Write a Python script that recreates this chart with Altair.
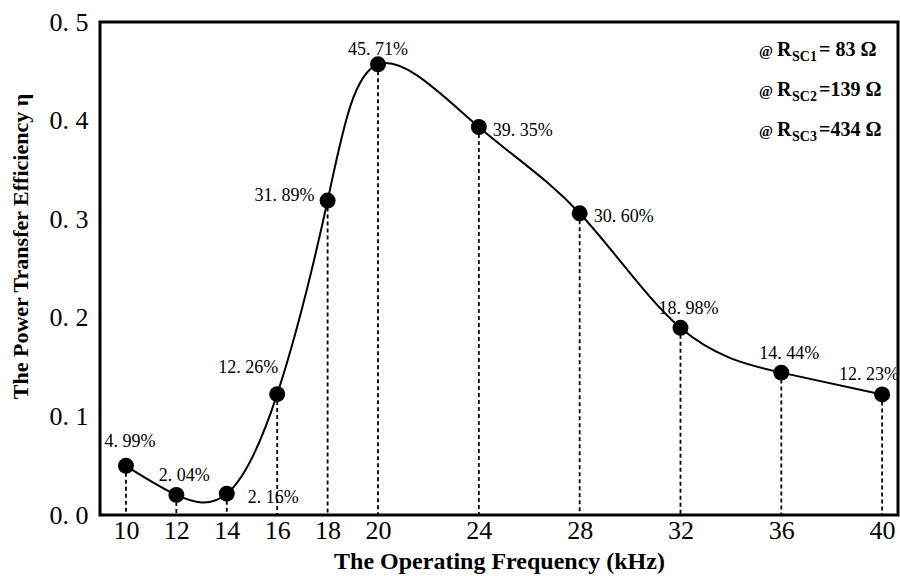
import altair as alt
import pandas as pd

freq = [10, 12, 14, 16, 18, 20, 24, 28, 32, 36, 40]
eff = [0.0499, 0.0204, 0.0216, 0.1226, 0.3189, 0.4571, 0.3935, 0.3060, 0.1898, 0.1444, 0.1223]
labels = ["4. 99%", "2. 04%", "2. 16%", "12. 26%", "31. 89%", "45. 71%",
          "39. 35%", "30. 60%", "18. 98%", "14. 44%", "12. 23%"]
placement = ["up", "up_right", "right_low", "up_left", "left", "top",
             "right", "right", "up_right", "up_right", "up_left_edge"]
y_ticks = [0.0, 0.1, 0.2, 0.3, 0.4, 0.5]
legend_sub = ["SC1", "SC2", "SC3"]
legend_val = ["= 83  Ω", "=139 Ω", "=434 Ω"]

df = pd.DataFrame({"f": freq, "e": eff, "lab": labels, "pl": placement, "zero": [0.0] * len(freq)})

SERIF = "Liberation Serif"

x = alt.X("f:Q", scale=alt.Scale(domain=[8.97, 40.63], nice=False, zero=False),
          axis=alt.Axis(values=freq, title="The Operating Frequency (kHz)",
                        ticks=False, domain=False, grid=False,
                        labelFont=SERIF, labelFontSize=26, labelColor="black",
                        labelPadding=2, labelFlush=False,
                        titleFont=SERIF, titleFontWeight="bold", titleFontSize=24,
                        titleColor="black", titleY=46, titleBaseline="middle"))
y = alt.Y("e:Q", scale=alt.Scale(domain=[0, 0.5], nice=False),
          axis=alt.Axis(values=y_ticks, title="The Power Transfer Efficiency η",
                        labelExpr="replace(format(datum.value, '.1f'), '.', '. ')",
                        ticks=False, domain=False, grid=False,
                        labelFont=SERIF, labelFontSize=26, labelColor="black",
                        labelPadding=12,
                        titleFont=SERIF, titleFontWeight="bold", titleFontSize=22,
                        titleColor="black", titleX=-80, titleY=224,
                        titleBaseline="middle"))

base = alt.Chart(df)

drops = base.mark_rule(color="black", strokeWidth=1.8, strokeDash=[4, 3]).encode(
    x=x, y=y, y2="zero:Q")

curve = base.mark_line(color="black", strokeWidth=2, interpolate="natural").encode(x=x, y=y)

pts = base.mark_point(filled=True, color="black", opacity=1, size=255, shape="circle").encode(x=x, y=y)

place_style = {
    "up": ("center", 4, -24),
    "up_right": ("center", 8, -19),
    "up_left_edge": ("center", -13, -19),
    "right_low": ("left", 21, 4),
    "up_left": ("center", -29, -26),
    "left": ("right", -13, -5),
    "top": ("center", 0, -14),
    "right": ("left", 14, 4),
}

text_layers = []
for key, (al, dx, dy) in place_style.items():
    text_layers.append(
        base.transform_filter(alt.datum.pl == key)
        .mark_text(font=SERIF, fontSize=18, color="black", align=al, dx=dx, dy=dy,
                   baseline="middle")
        .encode(x=x, y=y, text="lab:N"))

legend_layers = []
for i, (sub, val) in enumerate(zip(legend_sub, legend_val)):
    yb = 34 + 40 * i
    ldf = pd.DataFrame({"a": ["@"], "r": ["R"], "s": [sub], "v": [val]})
    lc = alt.Chart(ldf)
    legend_layers += [
        lc.mark_text(font=SERIF, fontWeight="bold", fontSize=15, align="left",
                     baseline="alphabetic", color="black")
          .encode(x=alt.value(659), y=alt.value(yb), text="a:N"),
        lc.mark_text(font=SERIF, fontWeight="bold", fontSize=20, align="left",
                     baseline="alphabetic", color="black")
          .encode(x=alt.value(677), y=alt.value(yb), text="r:N"),
        lc.mark_text(font=SERIF, fontWeight="bold", fontSize=14, align="left",
                     baseline="alphabetic", color="black")
          .encode(x=alt.value(692), y=alt.value(yb + 5), text="s:N"),
        lc.mark_text(font=SERIF, fontWeight="bold", fontSize=20, align="left",
                     baseline="alphabetic", color="black")
          .encode(x=alt.value(719), y=alt.value(yb), text="v:N"),
    ]

chart = alt.layer(drops, curve, pts, *text_layers, *legend_layers).properties(
    width=798, height=493,
    autosize=alt.AutoSizeParams(type="none"),
    padding={"left": 100, "top": 22, "right": 2, "bottom": 61},
    background="white",
).configure_view(stroke="black", strokeWidth=3)

chart.save("out.html", embed_options={"renderer": "svg", "actions": False})
